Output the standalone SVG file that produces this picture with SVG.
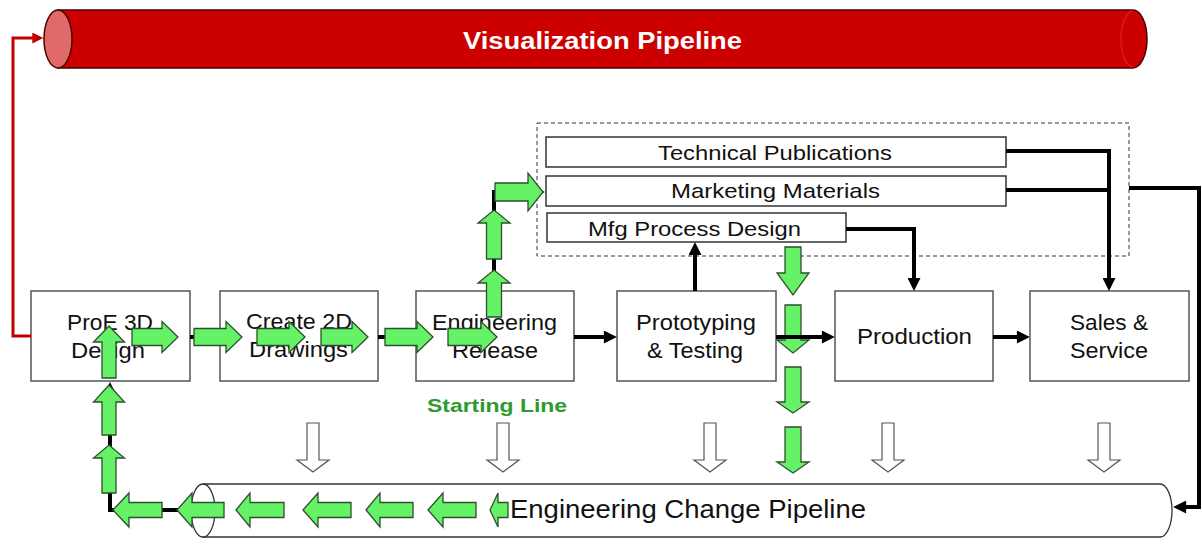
<svg xmlns="http://www.w3.org/2000/svg" width="1202" height="545" viewBox="0 0 1202 545">
  <style>
    .box { fill: #ffffff; stroke: #555555; stroke-width: 1.5; }
    .sub { fill: #ffffff; stroke: #333333; stroke-width: 1.5; }
    .lbl { font-family: "Liberation Sans", Arial, sans-serif; font-size: 22px; fill: #111111; }
    .sm { font-size: 21px; }
    .conn { fill: none; stroke: #000000; stroke-width: 4; }
    .red { fill: none; stroke: #c00000; stroke-width: 3; }
    .green { fill: #66f266; stroke: #2e4f2e; stroke-width: 1.3; stroke-linejoin: miter; }
    .hollow { fill: #ffffff; stroke: #555555; stroke-width: 1.2; }
  </style>
  <defs>
    <marker id="ah" viewBox="0 0 10 10" markerUnits="userSpaceOnUse" markerWidth="14" markerHeight="13" refX="7" refY="5" orient="auto">
      <path d="M0,0 L10,5 L0,10 z" fill="#000000"/>
    </marker>
    <marker id="ahRed" viewBox="0 0 10 10" markerUnits="userSpaceOnUse" markerWidth="13" markerHeight="11" refX="7" refY="5" orient="auto">
      <path d="M0,0 L10,5 L0,10 z" fill="#c00000"/>
    </marker>
  </defs>

  <!-- Visualization pipeline cylinder -->
  <g id="visualization-pipeline">
    <path d="M58,10 L1133,10 A14,29 0 0 1 1133,68 L58,68 Z" fill="#cc0000" stroke="#4a0000" stroke-width="1.5"/>
    <path d="M1133,11 A12,28 0 0 0 1133,67" fill="none" stroke="#e01818" stroke-width="1.5"/>
    <ellipse cx="58" cy="39" rx="14" ry="29" fill="#e06a6a" stroke="#4a0000" stroke-width="1.5"/>
    <text x="463" y="49" class="lbl" style="font-weight:bold; font-size:23px; fill:#ffffff" textLength="279" lengthAdjust="spacingAndGlyphs">Visualization Pipeline</text>
  </g>

  <!-- Engineering change pipeline cylinder -->
  <g id="engineering-change-pipeline">
    <path d="M203,484 L1160,484 A12,26.5 0 0 1 1160,537 L203,537 Z" fill="#ffffff" stroke="#333333" stroke-width="1.3"/>
    <ellipse cx="203" cy="510.5" rx="12" ry="26.5" fill="#ffffff" stroke="#333333" stroke-width="1.3"/>
    <text x="510" y="518" class="lbl" style="font-size:25px" textLength="356" lengthAdjust="spacingAndGlyphs">Engineering Change Pipeline</text>
  </g>

  <!-- Outsourced / downstream group -->
  <g id="downstream-group">
    <rect x="537" y="123" width="592" height="133" fill="none" stroke="#333333" stroke-width="1" stroke-dasharray="4,3"/>
  </g>
  <g id="technical-publications">
    <rect x="546" y="137" width="460" height="30" class="sub"/>
    <text x="658" y="160" class="lbl sm" textLength="234" lengthAdjust="spacingAndGlyphs">Technical Publications</text>
  </g>
  <g id="marketing-materials">
    <rect x="546" y="176" width="460" height="30" class="sub"/>
    <text x="671" y="198" class="lbl sm" textLength="209" lengthAdjust="spacingAndGlyphs">Marketing Materials</text>
  </g>
  <g id="mfg-process-design">
    <rect x="547" y="213" width="299" height="29" class="sub"/>
    <text x="588" y="236" class="lbl sm" textLength="213" lengthAdjust="spacingAndGlyphs">Mfg Process Design</text>
  </g>

  <!-- Main process boxes -->
  <g id="proe-3d-design">
    <rect x="31" y="291" width="159" height="90" class="box"/>
    <text x="67" y="330" class="lbl" textLength="86" lengthAdjust="spacingAndGlyphs">ProE 3D</text>
    <text x="71" y="358" class="lbl" textLength="74" lengthAdjust="spacingAndGlyphs">Design</text>
  </g>
  <g id="create-2d-drawings">
    <rect x="220" y="291" width="158" height="90" class="box"/>
    <text x="246" y="329" class="lbl" textLength="106" lengthAdjust="spacingAndGlyphs">Create 2D</text>
    <text x="249" y="357" class="lbl" textLength="99" lengthAdjust="spacingAndGlyphs">Drawings</text>
  </g>
  <g id="engineering-release">
    <rect x="416" y="291" width="158" height="90" class="box"/>
    <text x="432" y="330" class="lbl" textLength="125" lengthAdjust="spacingAndGlyphs">Engineering</text>
    <text x="452" y="358" class="lbl" textLength="86" lengthAdjust="spacingAndGlyphs">Release</text>
  </g>
  <g id="prototyping-testing">
    <rect x="617" y="291" width="159" height="90" class="box"/>
    <text x="636" y="330" class="lbl" textLength="120" lengthAdjust="spacingAndGlyphs">Prototyping</text>
    <text x="647" y="358" class="lbl" textLength="96" lengthAdjust="spacingAndGlyphs">&amp; Testing</text>
  </g>
  <g id="production">
    <rect x="835" y="291" width="158" height="90" class="box"/>
    <text x="857" y="344" class="lbl" textLength="115" lengthAdjust="spacingAndGlyphs">Production</text>
  </g>
  <g id="sales-service">
    <rect x="1030" y="291" width="159" height="90" class="box"/>
    <text x="1070" y="330" class="lbl" textLength="78" lengthAdjust="spacingAndGlyphs">Sales &amp;</text>
    <text x="1070" y="358" class="lbl" textLength="78" lengthAdjust="spacingAndGlyphs">Service</text>
  </g>

  <g id="starting-line-label">
    <text x="427" y="412" class="lbl" style="font-weight:bold; font-size:19px; fill:#2f9a2f" textLength="140" lengthAdjust="spacingAndGlyphs">Starting Line</text>
  </g>

  <!-- Connectors -->
  <g id="connectors">
    <polyline class="red" points="31,336 13,336 13,38 40,38" marker-end="url(#ahRed)"/>
    <line class="conn" x1="190" y1="337" x2="220" y2="337"/>
    <line class="conn" x1="378" y1="337" x2="416" y2="337"/>
    <line class="conn" x1="574" y1="337" x2="613" y2="337" marker-end="url(#ah)"/>
    <line class="conn" x1="993" y1="337" x2="1026" y2="337" marker-end="url(#ah)"/>
    <line class="conn" x1="695" y1="291" x2="695" y2="246" marker-end="url(#ah)"/>
    <polyline class="conn" points="846,229 914,229 914,287" marker-end="url(#ah)"/>
    <polyline class="conn" points="1006,151 1109,151 1109,287" marker-end="url(#ah)"/>
    <line class="conn" x1="1006" y1="190" x2="1109" y2="190"/>
    <polyline class="conn" points="1129,188 1199,188 1199,507 1177,507" marker-end="url(#ah)"/>
    <polyline class="conn" points="494,291 494,192 541,192" marker-end="url(#ah)"/>
    <polyline class="conn" points="203,510 110,510 110,386" marker-end="url(#ah)"/>
  </g>

  <!-- Hollow change-feed arrows -->
  <g id="change-feeds">
    <polygon class="hollow" points="307,423 319,423 319,460 329,460 313,472 297,460 307,460"/>
    <polygon class="hollow" points="497,423 509,423 509,460 519,460 503,472 487,460 497,460"/>
    <polygon class="hollow" points="704,423 716,423 716,460 726,460 710,472 694,460 704,460"/>
    <polygon class="hollow" points="882,423 894,423 894,460 904,460 888,472 872,460 882,460"/>
    <polygon class="hollow" points="1098,423 1110,423 1110,460 1120,460 1104,472 1088,460 1098,460"/>
  </g>

  <!-- Green flow arrows -->
  <g id="flow-arrows">
    <!-- along the main row -->
    <polygon class="green" points="132,328.5 162,328.5 162,321.5 178,337 162,352.5 162,345.5 132,345.5"/>
    <polygon class="green" points="194,328.5 226,328.5 226,321.5 242,337 226,352.5 226,345.5 194,345.5"/>
    <polygon class="green" points="257,328.5 289,328.5 289,321.5 305,337 289,352.5 289,345.5 257,345.5"/>
    <polygon class="green" points="321,328.5 352,328.5 352,321.5 368,337 352,352.5 352,345.5 321,345.5"/>
    <polygon class="green" points="385,328.5 417,328.5 417,321.5 433,337 417,352.5 417,345.5 385,345.5"/>
    <polygon class="green" points="448,328.5 481,328.5 481,321.5 497,337 481,352.5 481,345.5 448,345.5"/>
    <!-- up from engineering release -->
    <polygon class="green" points="486.5,317 486.5,283 478,283 494,270 510,283 501.5,283 501.5,317"/>
    <polygon class="green" points="486.5,259 486.5,223 478,223 494,210 510,223 501.5,223 501.5,259"/>
    <polygon class="green" points="495,183 528,183 528,173 543,192 528,211 528,201 495,201"/>
    <!-- down past prototyping -->
    <polygon class="green" points="785,247 801,247 801,273 809,273 793,295 777,273 785,273"/>
    <polygon class="green" points="785,305 801,305 801,340 809,340 793,353 777,340 785,340"/>
    <polygon class="green" points="785,367 801,367 801,402 809,402 793,413 777,402 785,402"/>
    <polygon class="green" points="785,427 801,427 801,462 809,462 793,473 777,462 785,462"/>
    <!-- back along the change pipeline -->
    <polygon class="green" points="490,510 498,493 498,502.5 508,502.5 508,517.5 498,517.5 498,527"/>
    <polygon class="green" points="428,510 443,493 443,502.5 476,502.5 476,517.5 443,517.5 443,527"/>
    <polygon class="green" points="366,510 380,493 380,502.5 413,502.5 413,517.5 380,517.5 380,527"/>
    <polygon class="green" points="303,510 318,493 318,502.5 351,502.5 351,517.5 318,517.5 318,527"/>
    <polygon class="green" points="236,510 250,493 250,502.5 284,502.5 284,517.5 250,517.5 250,527"/>
    <polygon class="green" points="177,510 192,493 192,502.5 224,502.5 224,517.5 192,517.5 192,527"/>
    <polygon class="green" points="113,510 129,493 129,502.5 162,502.5 162,517.5 129,517.5 129,527"/>
    <!-- up to ProE 3D design -->
    <polygon class="green" points="102,493 102,458 93.5,458 109,445 124.5,458 116,458 116,493"/>
    <polygon class="green" points="102,435 102,402 93.5,402 109,385 124.5,402 116,402 116,435"/>
    <polygon class="green" points="102,378 102,342 93.5,342 109,326 124.5,342 116,342 116,378"/>
  </g>

  <!-- prototyping to production drawn over the descending arrows -->
  <g id="connectors-front">
    <line class="conn" x1="776" y1="337" x2="831" y2="337" marker-end="url(#ah)"/>
  </g>
</svg>
